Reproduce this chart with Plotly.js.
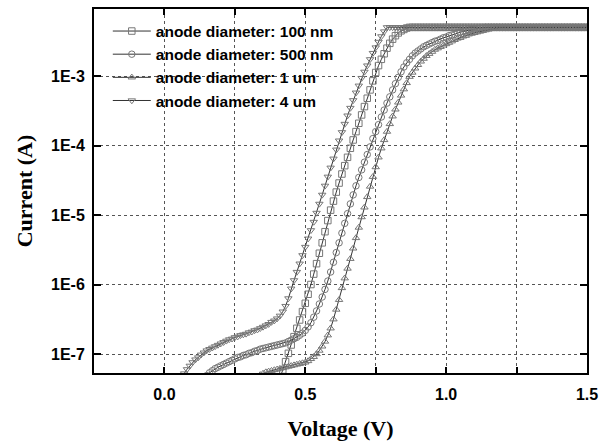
<!DOCTYPE html>
<html>
<head>
<meta charset="utf-8">
<script src="https://cdn.plot.ly/plotly-3.0.1.min.js"></script>
<style>html,body{margin:0;padding:0;background:#fff;}#chart{width:601px;height:441px;}</style>
</head>
<body>
<div id="chart"></div>
<script>
// Voltage sweep (V), 0.01 V steps
const voltage = [
  0.06,0.07,0.08,0.09,
  0.10,0.11,0.12,0.13,0.14,0.15,0.16,0.17,0.18,0.19,
  0.20,0.21,0.22,0.23,0.24,0.25,0.26,0.27,0.28,0.29,
  0.30,0.31,0.32,0.33,0.34,0.35,0.36,0.37,0.38,0.39,
  0.40,0.41,0.42,0.43,0.44,0.45,0.46,0.47,0.48,0.49,
  0.50,0.51,0.52,0.53,0.54,0.55,0.56,0.57,0.58,0.59,
  0.60,0.61,0.62,0.63,0.64,0.65,0.66,0.67,0.68,0.69,
  0.70,0.71,0.72,0.73,0.74,0.75,0.76,0.77,0.78,0.79,
  0.80,0.81,0.82,0.83,0.84,0.85,0.86,0.87,0.88,0.89,
  0.90,0.91,0.92,0.93,0.94,0.95,0.96,0.97,0.98,0.99,
  1.00,1.01,1.02,1.03,1.04,1.05,1.06,1.07,1.08,1.09,
  1.10,1.11,1.12,1.13,1.14,1.15,1.16,1.17,1.18,1.19,
  1.20,1.21,1.22,1.23,1.24,1.25,1.26,1.27,1.28,1.29,
  1.30,1.31,1.32,1.33,1.34,1.35,1.36,1.37,1.38,1.39,
  1.40,1.41,1.42,1.43,1.44,1.45,1.46,1.47,1.48,1.49,
  1.50
];

// Series labels
const seriesNames = ["anode diameter: 100 nm", "anode diameter: 500 nm", "anode diameter: 1 um", "anode diameter: 4 um"];
// First voltage of each series (V)
const startVoltage = [0.41, 0.14, 0.32, 0.06];

// log10 of current (A), one value per voltage step
const log10I_100nm = [
  -7.35,-7.23,-7.11,-6.99,-6.87,-6.75,-6.63,-6.51,-6.39,-6.27,
  -6.14,-6.00,-5.85,-5.70,-5.55,-5.40,-5.24,-5.08,-4.93,-4.80,
  -4.67,-4.54,-4.41,-4.29,-4.17,-4.04,-3.92,-3.80,-3.68,-3.56,
  -3.44,-3.32,-3.20,-3.07,-2.95,-2.85,-2.76,-2.68,-2.60,-2.53,
  -2.47,-2.42,-2.38,-2.35,-2.33,-2.31,-2.30,-2.30,-2.30,-2.30,
  -2.30,-2.30,-2.30,-2.30,-2.30,-2.30,-2.30,-2.30,-2.30,-2.30,
  -2.30,-2.30,-2.30,-2.30,-2.30,-2.30,-2.30,-2.30,-2.30,-2.30,
  -2.30,-2.30,-2.30,-2.30,-2.30,-2.30,-2.30,-2.30,-2.30,-2.30,
  -2.30,-2.30,-2.30,-2.30,-2.30,-2.30,-2.30,-2.30,-2.30,-2.30,
  -2.30,-2.30,-2.30,-2.30,-2.30,-2.30,-2.30,-2.30,-2.30,-2.30,
  -2.30,-2.30,-2.30,-2.30,-2.30,-2.30,-2.30,-2.30,-2.30,-2.30
];
const log10I_500nm = [
  -7.40,-7.31,-7.27,-7.24,-7.21,-7.19,-7.17,-7.15,-7.13,-7.11,
  -7.09,-7.07,-7.05,-7.04,-7.02,-7.01,-6.99,-6.98,-6.96,-6.95,
  -6.93,-6.92,-6.91,-6.90,-6.89,-6.88,-6.87,-6.86,-6.85,-6.84,
  -6.82,-6.80,-6.78,-6.76,-6.73,-6.70,-6.66,-6.61,-6.55,-6.47,
  -6.38,-6.28,-6.18,-6.07,-5.95,-5.82,-5.68,-5.54,-5.40,-5.26,
  -5.12,-4.98,-4.84,-4.71,-4.58,-4.46,-4.35,-4.24,-4.13,-4.02,
  -3.90,-3.80,-3.70,-3.59,-3.49,-3.39,-3.30,-3.20,-3.11,-3.02,
  -2.94,-2.87,-2.81,-2.76,-2.71,-2.67,-2.64,-2.61,-2.58,-2.56,
  -2.54,-2.52,-2.50,-2.49,-2.47,-2.45,-2.44,-2.42,-2.41,-2.40,
  -2.38,-2.37,-2.36,-2.35,-2.34,-2.33,-2.32,-2.32,-2.31,-2.31,
  -2.30,-2.30,-2.30,-2.30,-2.30,-2.30,-2.30,-2.30,-2.30,-2.30,
  -2.30,-2.30,-2.30,-2.30,-2.30,-2.30,-2.30,-2.30,-2.30,-2.30,
  -2.30,-2.30,-2.30,-2.30,-2.30,-2.30,-2.30,-2.30,-2.30,-2.30,
  -2.30,-2.30,-2.30,-2.30,-2.30,-2.30,-2.30
];
const log10I_1um = [
  -7.40,-7.34,-7.30,-7.28,-7.26,-7.25,-7.24,-7.23,-7.22,-7.21,
  -7.20,-7.19,-7.18,-7.17,-7.16,-7.15,-7.14,-7.13,-7.12,-7.10,
  -7.07,-7.04,-7.00,-6.95,-6.89,-6.82,-6.73,-6.63,-6.50,-6.36,
  -6.22,-6.05,-5.91,-5.77,-5.63,-5.48,-5.33,-5.18,-5.03,-4.89,
  -4.74,-4.59,-4.45,-4.31,-4.17,-4.04,-3.92,-3.80,-3.69,-3.58,
  -3.48,-3.38,-3.28,-3.19,-3.10,-3.01,-2.95,-2.89,-2.84,-2.79,
  -2.75,-2.71,-2.68,-2.65,-2.62,-2.60,-2.58,-2.56,-2.54,-2.52,
  -2.50,-2.48,-2.46,-2.45,-2.43,-2.42,-2.40,-2.39,-2.38,-2.37,
  -2.36,-2.35,-2.34,-2.33,-2.32,-2.32,-2.31,-2.31,-2.30,-2.30,
  -2.30,-2.30,-2.30,-2.30,-2.30,-2.30,-2.30,-2.30,-2.30,-2.30,
  -2.30,-2.30,-2.30,-2.30,-2.30,-2.30,-2.30,-2.30,-2.30,-2.30,
  -2.30,-2.30,-2.30,-2.30,-2.30,-2.30,-2.30,-2.30,-2.30
];
const log10I_4um = [
  -7.38,-7.28,-7.22,-7.17,-7.12,-7.08,-7.05,-7.01,-6.98,-6.95,
  -6.93,-6.91,-6.89,-6.87,-6.85,-6.83,-6.81,-6.79,-6.78,-6.76,
  -6.75,-6.73,-6.72,-6.71,-6.69,-6.68,-6.66,-6.65,-6.63,-6.61,
  -6.59,-6.57,-6.54,-6.52,-6.49,-6.45,-6.39,-6.31,-6.20,-6.06,
  -5.94,-5.82,-5.70,-5.58,-5.46,-5.34,-5.22,-5.10,-4.97,-4.84,
  -4.71,-4.58,-4.45,-4.32,-4.19,-4.06,-3.93,-3.81,-3.69,-3.57,
  -3.46,-3.35,-3.24,-3.14,-3.03,-2.94,-2.85,-2.76,-2.67,-2.59,
  -2.51,-2.43,-2.36,-2.30,-2.30,-2.30,-2.30,-2.30,-2.30,-2.30,
  -2.30,-2.30,-2.30,-2.30,-2.30,-2.30,-2.30,-2.30,-2.30,-2.30,
  -2.30,-2.30,-2.30,-2.30,-2.30,-2.30,-2.30,-2.30,-2.30,-2.30,
  -2.30,-2.30,-2.30,-2.30,-2.30,-2.30,-2.30,-2.30,-2.30,-2.30,
  -2.30,-2.30,-2.30,-2.30,-2.30,-2.30,-2.30,-2.30,-2.30,-2.30,
  -2.30,-2.30,-2.30,-2.30,-2.30,-2.30,-2.30,-2.30,-2.30,-2.30,
  -2.30,-2.30,-2.30,-2.30,-2.30,-2.30,-2.30,-2.30,-2.30,-2.30,
  -2.30,-2.30,-2.30,-2.30,-2.30
];

// Y tick labels
const yTickVals = [1e-7, 1e-6, 1e-5, 1e-4, 1e-3];
const yTickText = ["1E-7", "1E-6", "1E-5", "1E-4", "1E-3"];
// X tick labels
const xTickVals = [0, 0.5, 1.0, 1.5];
const xTickText = ["0.0", "0.5", "1.0", "1.5"];

const logSeries = [log10I_100nm, log10I_500nm, log10I_1um, log10I_4um];
const symbols = ["square-open", "circle-open", "triangle-up-open", "triangle-down-open"];

const yRange = [-7.273, -2.036];
const plotW = 601 - 94 - 14;

function xsFor(start) {
  const i = voltage.findIndex(v => Math.abs(v - start) < 1e-9);
  return voltage.slice(i);
}

// minor log tick marks (2..9 x 10^n) on both frame sides - axis styling only
const shapes = [];
for (let e = -8; e <= -2; e++) {
  for (let d = 2; d <= 9; d++) {
    const ly = Math.log10(d * Math.pow(10, e));
    if (ly <= yRange[0] || ly >= yRange[1]) continue;
    shapes.push({type: "line", layer: "above", xref: "paper", yref: "y", x0: 0, x1: 5 / plotW, y0: ly, y1: ly, line: {color: "#111", width: 1.5}});
    shapes.push({type: "line", layer: "above", xref: "paper", yref: "y", x0: 1, x1: 1 - 5 / plotW, y0: ly, y1: ly, line: {color: "#111", width: 1.5}});
  }
}

const traces = logSeries.map((ls, k) => {
  const xs = xsFor(startVoltage[k]);
  return {
    type: "scatter",
    mode: "lines+markers",
    name: seriesNames[k],
    x: xs.slice(0, ls.length),
    y: ls.map(v => Math.pow(10, v)),
    line: {color: "#333", width: 1},
    marker: {symbol: symbols[k], size: 6.5, color: "#777", line: {color: "#777", width: 1}}
  };
});

const tickFont = {family: "Liberation Sans, Arial, sans-serif", size: 16, color: "#000", weight: "bold"};
const titleFont = {family: "Liberation Serif, Times New Roman, serif", size: 22, color: "#000", weight: "bold"};

const layout = {
  width: 601, height: 441,
  margin: {l: 94, r: 14, t: 9, b: 68},
  paper_bgcolor: "#fff", plot_bgcolor: "#fff",
  showlegend: true,
  shapes: shapes,
  legend: {
    x: 0.028, y: 0.985, xanchor: "left", yanchor: "top",
    bgcolor: "rgba(0,0,0,0)", borderwidth: 0,
    itemwidth: 38,
    font: {family: "Liberation Sans, Arial, sans-serif", size: 15.5, color: "#000", weight: "bold"},
    tracegroupgap: 0
  },
  xaxis: {
    range: [-0.25, 1.5],
    tickmode: "array", tickvals: xTickVals, ticktext: xTickText,
    ticks: "inside", ticklen: 6, tickwidth: 2, tickcolor: "#000",
    ticklabelstandoff: 6,
    showline: true, linewidth: 2, linecolor: "#000", mirror: "ticks",
    showgrid: true, gridcolor: "#555", griddash: "dot", gridwidth: 1,
    zeroline: false,
    minor: {dtick: 0.25, ticks: "inside", ticklen: 6, tickwidth: 2, tickcolor: "#000", showgrid: true, gridcolor: "#555", griddash: "dot", gridwidth: 1},
    tickfont: tickFont,
    title: {text: "Voltage (V)", font: titleFont, standoff: 18}
  },
  yaxis: {
    type: "log",
    range: yRange,
    tickmode: "array", tickvals: yTickVals, ticktext: yTickText,
    ticks: "inside", ticklen: 7, tickwidth: 2, tickcolor: "#000",
    ticklabelstandoff: 4,
    showline: true, linewidth: 2, linecolor: "#000", mirror: "ticks",
    showgrid: true, gridcolor: "#555", griddash: "dot", gridwidth: 1,
    zeroline: false,
    tickfont: tickFont,
    title: {text: "Current (A)", font: titleFont, standoff: 12}
  }
};

Plotly.newPlot("chart", traces, layout, {displayModeBar: false, staticPlot: true});
</script>
</body>
</html>
